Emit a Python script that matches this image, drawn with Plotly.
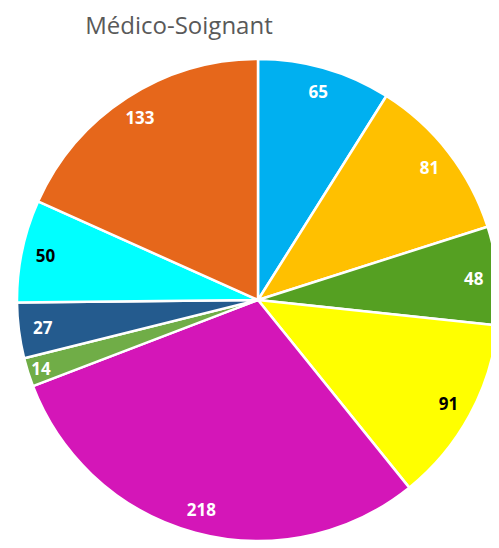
import plotly.graph_objects as go

values = [65, 81, 48, 91, 218, 14, 27, 50, 133]
labels = ["A", "B", "C", "D", "E", "F", "G", "H", "I"]
colors = ["#00B0F0", "#FFC000", "#55A022", "#FFFF00", "#D416B8",
          "#70AD47", "#245B8E", "#00FFFF", "#E6671B"]
text_colors = ["white", "white", "white", "black", "white",
               "white", "white", "black", "white"]
title_text = "Médico-Soignant"

fig = go.Figure()
# colored slices
fig.add_trace(go.Pie(
    values=values, labels=labels, sort=False, direction="clockwise", rotation=0,
    marker=dict(colors=colors, line=dict(color="white", width=2.5)),
    textinfo="none", hoverinfo="skip", showlegend=False,
    domain=dict(x=[0, 1], y=[0, 1]),
))
# label ring (transparent) to place labels near the rim
fig.add_trace(go.Pie(
    values=values, labels=labels, sort=False, direction="clockwise", rotation=0,
    hole=0.8,
    marker=dict(colors=["rgba(0,0,0,0)"] * len(values), line=dict(width=0)),
    textinfo="value", textposition="inside", insidetextorientation="horizontal",
    textfont=dict(family="Open Sans", size=17, color=text_colors, weight="bold"),
    hoverinfo="skip", showlegend=False,
    domain=dict(x=[0, 1], y=[0, 1]),
))

fig.update_layout(
    width=491, height=540,
    margin=dict(l=9, r=0, t=51, b=7),
    paper_bgcolor="white", plot_bgcolor="white",
    title=dict(text=title_text, x=171 / 491, xanchor="center", xref="container",
               y=1 - 18 / 540, yanchor="middle", yref="container",
               font=dict(family="Open Sans", size=24, color="#595959")),
    uniformtext=dict(minsize=17, mode="show"),
)

fig.write_html("out.html")
